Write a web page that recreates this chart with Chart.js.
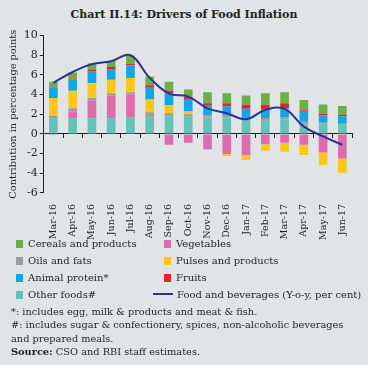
<!DOCTYPE html>
<html>
<head>
<meta charset="utf-8">
<script src="https://cdn.jsdelivr.net/npm/chart.js@4.4.1/dist/chart.umd.min.js"></script>
<style>
  body { margin: 0; background: #e0e4e7; font-family: "DejaVu Serif", serif; color: #231f20; }
  #wrap { position: relative; width: 368px; height: 365px; overflow: hidden; }
  #title { position: absolute; top: 8px; left: 0; width: 368px; text-align: center; font-weight: bold; font-size: 11px; }
  #cv { position: absolute; top: 27px; left: 0; }
  .leg { position: absolute; font-size: 10px; white-space: nowrap; }
  .sw { display: inline-block; width: 7px; height: 8px; margin-right: 5px; vertical-align: -1px; }
  .ln { display: inline-block; width: 20px; height: 2px; background: #2e3192; margin-right: 4px; vertical-align: 3px; }
  #notes { position: absolute; left: 11px; top: 305px; font-size: 9.8px; line-height: 13.3px; }
</style>
</head>
<body>
<div id="wrap">
  <div id="title">Chart II.14: Drivers of Food Inflation</div>
  <canvas id="cv" width="368" height="216"></canvas>
  <div class="leg" style="left:16px;top:238px"><span class="sw" style="background:#6cb043"></span>Cereals and products</div>
  <div class="leg" style="left:164px;top:238px"><span class="sw" style="background:#dd6bae"></span>Vegetables</div>
  <div class="leg" style="left:16px;top:255px"><span class="sw" style="background:#9d9d9d"></span>Oils and fats</div>
  <div class="leg" style="left:164px;top:255px"><span class="sw" style="background:#ffc61a"></span>Pulses and products</div>
  <div class="leg" style="left:16px;top:272px"><span class="sw" style="background:#12a6e6"></span>Animal protein*</div>
  <div class="leg" style="left:164px;top:272px"><span class="sw" style="background:#e8212b"></span>Fruits</div>
  <div class="leg" style="left:16px;top:289px"><span class="sw" style="background:#63c3b6"></span>Other foods#</div>
  <div class="leg" style="left:153px;top:289px"><span class="ln"></span>Food and beverages (Y-o-y, per cent)</div>
  <div id="notes">
    *: includes egg, milk &amp; products and meat &amp; fish.<br>
    #: includes sugar &amp; confectionery, spices, non-alcoholic beverages<br>
    and prepared meals.<br>
    <b>Source:</b> CSO and RBI staff estimates.
  </div>
</div>
<script>
  // months
  const months = ["Mar-16","Apr-16","May-16","Jun-16","Jul-16","Aug-16","Sep-16","Oct-16",
    "Nov-16","Dec-16","Jan-17","Feb-17","Mar-17","Apr-17","May-17","Jun-17"];

  // contributions (percentage points)
  const otherFoods = [1.6,1.6,1.6,1.6,1.7,1.7,1.8,1.77,1.67,1.67,1.43,1.43,1.5,1.1,1.05,1.0];
  const vegetables = [-0.1,0.7,1.8,2.3,2.3,0,-1.1,-0.9,-1.55,-2.05,-2.15,-1.05,-0.9,-1.1,-1.9,-2.5];
  const oilsFats = [0.25,0.3,0.25,0.25,0.25,0.5,0.3,0.24,0.2,0.17,0.17,0.2,0.17,0.15,0.1,0.1];
  const pulses = [1.8,1.8,1.5,1.35,1.45,1.3,0.85,0.27,-0.05,-0.2,-0.5,-0.65,-0.9,-1.05,-1.25,-1.45];
  const animalProtein = [1.1,1.15,1.2,1.1,1.25,1.2,1.2,1.19,1.0,0.95,0.95,0.9,0.95,1.0,0.75,0.7];
  const fruits = [0.05,0.1,0.15,0.2,0.15,0.25,0.25,0.3,0.24,0.34,0.41,0.45,0.5,0.15,0.15,0.15];
  const cereals = [0.5,0.6,0.7,0.65,0.85,0.9,0.9,0.75,1.12,1.02,0.94,1.17,1.13,1.05,0.95,0.9];
  // Food and beverages y-o-y
  const foodBev = [5.2,6.3,7.1,7.4,8.0,5.7,4.1,3.8,2.6,2.1,1.5,2.45,2.55,0.75,-0.25,-1.1];

  const yTicks = [-6,-4,-2,0,2,4,6,8,10];

  Chart.defaults.color = "#231f20";

  function bar(label, data, color) {
    return { type: "bar", label, data, backgroundColor: color, stack: "s",
      barPercentage: 0.45, categoryPercentage: 1, order: 2 };
  }

  new Chart(document.getElementById("cv"), {
    type: "bar",
    data: {
      labels: months,
      datasets: [
        { type: "line", label: "Food and beverages (Y-o-y, per cent)", data: foodBev,
          borderColor: "#2e3192", borderWidth: 2, pointRadius: 0, tension: 0.4,
          fill: false, order: 1 },
        bar("Other foods#", otherFoods, "#63c3b6"),
        bar("Vegetables", vegetables, "#dd6bae"),
        bar("Oils and fats", oilsFats, "#9d9d9d"),
        bar("Pulses and products", pulses, "#ffc61a"),
        bar("Animal protein*", animalProtein, "#12a6e6"),
        bar("Fruits", fruits, "#e8212b"),
        bar("Cereals and products", cereals, "#6cb043")
      ]
    },
    options: {
      responsive: false,
      animation: false,
      layout: { padding: { left: 6, right: 16, top: 3, bottom: 0 } },
      plugins: { legend: { display: false }, tooltip: { enabled: false } },
      scales: {
        x: {
          stacked: true,
          grid: { display: false },
          border: { display: false },
          ticks: { font: { family: "DejaVu Serif", size: 9.5 }, minRotation: 90, maxRotation: 90,
            padding: 3, autoSkip: false }
        },
        x2: {
          type: "category",
          labels: months,
          position: { y: 0 },
          offset: true,
          grid: { offset: true, drawOnChartArea: false, drawTicks: true, tickLength: 4, color: "#231f20" },
          border: { display: true, color: "#231f20", width: 1 },
          ticks: { display: false }
        },
        y: {
          stacked: true,
          min: -6, max: 10,
          afterBuildTicks: (s) => { s.ticks = yTicks.map(v => ({ value: v })); },
          grid: {
            drawOnChartArea: true, drawTicks: true, tickLength: 4,
            color: (c) => (c.tick && c.tick.value === 0 ? "#231f20" : "rgba(0,0,0,0)"),
            tickColor: "#231f20"
          },
          border: { display: true, color: "#231f20" },
          ticks: { font: { family: "DejaVu Serif", size: 11 }, padding: 2 },
          title: { display: true, text: "Contribution in percentage points",
            font: { family: "DejaVu Serif", size: 9.8 }, padding: 2 }
        }
      }
    }
  });
</script>
</body>
</html>
